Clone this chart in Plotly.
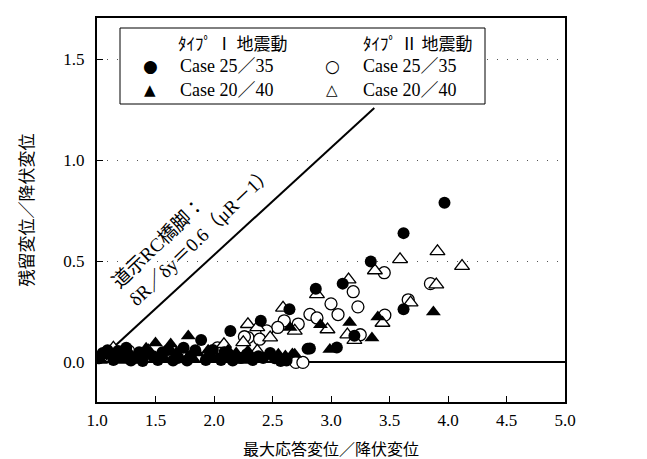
import plotly.graph_objects as go

# ---------------- data ----------------
# Type I ground motion, Case 25/35 (filled circles)
t1_c25_x = [3.97, 3.62, 3.34, 3.10, 2.87, 2.645, 2.40, 2.14, 3.62, 3.20, 2.82, 3.05,
            1.89, 1.05, 1.14, 1.25, 1.33, 1.44, 1.52, 1.61, 1.69, 1.80, 1.93, 1.99,
            2.12, 2.23, 2.33, 2.48, 2.80, 1.18, 1.39, 1.74, 2.06, 2.42, 2.57,
            1.02, 1.09, 1.21, 1.29, 1.36, 1.48, 1.56, 1.65, 1.77, 1.84, 1.96, 2.09,
            2.16, 2.28, 2.38, 2.52, 2.62]
t1_c25_y = [0.79, 0.64, 0.50, 0.39, 0.365, 0.263, 0.206, 0.156, 0.263, 0.132, 0.069, 0.074,
            0.111, 0.047, 0.012, 0.072, 0.022, 0.047, 0.012, 0.062, 0.022, 0.032, 0.012, 0.062,
            0.032, 0.022, 0.012, 0.047, 0.067, 0.057, 0.007, 0.072, 0.012, 0.022, 0.007,
            0.020, 0.060, 0.030, 0.010, 0.050, 0.030, 0.050, 0.010, 0.010, 0.060, 0.030, 0.050,
            0.010, 0.040, 0.030, 0.020, 0.010]

# Type I ground motion, Case 20/40 (filled triangles)
t1_c20_x = [3.875, 3.40, 3.16, 2.91, 2.65, 3.35, 2.99, 2.69, 2.61, 1.78, 1.63, 1.50,
            1.10, 1.28, 1.57, 1.86, 2.19, 2.67, 2.03, 2.29, 1.20,
            1.03, 1.16, 1.34, 1.42, 1.68, 1.82, 1.95, 2.12, 2.26, 2.45, 2.55]
t1_c20_y = [0.25, 0.225, 0.197, 0.187, 0.173, 0.121, 0.064, 0.041, 0.032, 0.131, 0.091, 0.096,
            0.032, 0.047, 0.022, 0.047, 0.047, 0.042, 0.022, 0.057, 0.010,
            0.010, 0.050, 0.030, 0.070, 0.050, 0.020, 0.060, 0.060, 0.010, 0.030, 0.040]

# Type II ground motion, Case 25/35 (open circles)
t2_c25_x = [3.85, 3.455, 3.19, 3.00, 3.23, 3.06, 2.82, 2.88, 2.72, 3.46, 3.66, 3.25,
            2.60, 2.545, 2.45, 2.29, 2.39, 2.26, 1.04, 1.27, 1.65, 2.03, 2.70, 2.76]
t2_c25_y = [0.39, 0.444, 0.35, 0.29, 0.275, 0.237, 0.238, 0.22, 0.19, 0.234, 0.31, 0.137,
            0.206, 0.173, 0.156, 0.123, 0.115, 0.127, 0.032, 0.057, 0.032, 0.072, 0.0, 0.0]

# Type II ground motion, Case 20/40 (open triangles)
t2_c20_x = [4.12, 3.91, 3.59, 3.375, 3.15, 3.90, 2.88, 3.68, 3.44, 2.97, 3.14, 3.20,
            2.69, 2.59, 2.48, 2.29, 2.37, 2.085, 2.25, 1.14, 1.44, 1.74, 2.37]
t2_c20_y = [0.477, 0.55, 0.51, 0.455, 0.41, 0.385, 0.337, 0.296, 0.195, 0.163, 0.138, 0.11,
            0.156, 0.27, 0.123, 0.189, 0.173, 0.09, 0.099, 0.072, 0.057, 0.047, 0.057]

# design line (Specifications for highway bridges, RC piers), as drawn
line_x = [1.0, 3.37]
line_y = [0.0, 1.26]

x_ticks = [1.0, 1.5, 2.0, 2.5, 3.0, 3.5, 4.0, 4.5, 5.0]
y_ticks = [0.0, 0.5, 1.0, 1.5]

x_title = "最大応答変位／降伏変位"
y_title = "残留変位／降伏変位"
hdr_1 = "ﾀｲﾌﾟ Ⅰ 地震動"
hdr_2 = "ﾀｲﾌﾟ Ⅱ 地震動"
lab_25 = "Case 25／35"
lab_20 = "Case 20／40"
line_label = "道示RC橋脚：<br>δR／δy＝0.6（μR－1）"

# ---------------- figure ----------------
SERIF = "Liberation Serif, Noto Sans CJK JP"
CJK = "Noto Sans CJK JP"

fig = go.Figure()
fig.add_trace(go.Scatter(x=line_x, y=line_y, mode="lines",
                         line=dict(color="black", width=2), showlegend=False))
fig.add_trace(go.Scatter(x=t2_c25_x, y=t2_c25_y, mode="markers", showlegend=False,
                         marker=dict(symbol="circle", size=12, color="white",
                                     line=dict(color="black", width=1.3))))
fig.add_trace(go.Scatter(x=t2_c20_x, y=t2_c20_y, mode="markers", showlegend=False,
                         marker=dict(symbol="triangle-up", size=13, color="white",
                                     line=dict(color="black", width=1.3))))
fig.add_trace(go.Scatter(x=t1_c25_x, y=t1_c25_y, mode="markers", showlegend=False,
                         marker=dict(symbol="circle", size=12, color="black",
                                     line=dict(width=0))))
fig.add_trace(go.Scatter(x=t1_c20_x, y=t1_c20_y, mode="markers", showlegend=False,
                         marker=dict(symbol="triangle-up", size=13, color="black",
                                     line=dict(width=0))))

fig.update_layout(
    width=647, height=459,
    margin=dict(l=89, r=90, t=10, b=65, autoexpand=False),
    paper_bgcolor="white", plot_bgcolor="white",
    font=dict(family=SERIF, size=17, color="black"),
)
fig.update_xaxes(
    range=[1.0, 5.0], tickvals=x_ticks, tickformat=".1f",
    ticks="inside", ticklen=6, tickwidth=1, tickcolor="black",
    showline=True, linecolor="black", linewidth=2, mirror=True,
    showgrid=False, zeroline=False, ticklabelstandoff=2,
    tickfont=dict(family=SERIF, size=17),
    title=dict(text=x_title, font=dict(family=CJK, size=16), standoff=14),
)
fig.update_yaxes(
    range=[-0.196, 1.705], tickvals=y_ticks, tickformat=".1f",
    ticks="inside", ticklen=6, tickwidth=1, tickcolor="black",
    showline=True, linecolor="black", linewidth=2, mirror=True,
    showgrid=True, gridcolor="#555555", gridwidth=1, griddash="1px,9px",
    zeroline=True, zerolinecolor="black", zerolinewidth=2,
    ticklabelstandoff=7,
    tickfont=dict(family=SERIF, size=17),
    title=dict(text=y_title, font=dict(family=CJK, size=17), standoff=25),
)

# legend box drawn as a shape with text entries
def px(x):
    return (x - 89) / 468.0

def py(y):
    return (394 - y) / 384.0

fig.add_shape(type="rect", xref="paper", yref="paper",
              x0=px(112), x1=px(477), y0=py(96), y1=py(20),
              line=dict(color="black", width=1), fillcolor="white", layer="above")

legend_items = [
    (hdr_1, 168, 35, "left", CJK, 17),
    (hdr_2, 353, 35, "left", CJK, 17),
    ("●", 142, 58, "center", "DejaVu Sans", 17),
    (lab_25, 170, 58, "left", SERIF, 18),
    ("▲", 142, 82, "center", "DejaVu Sans", 15),
    (lab_20, 170, 82, "left", SERIF, 18),
    ("○", 324, 58, "center", "DejaVu Sans", 17),
    (lab_25, 353, 58, "left", SERIF, 18),
    ("△", 324, 82, "center", "DejaVu Sans", 15),
    (lab_20, 353, 82, "left", SERIF, 18),
]
for txt, xx, yy, anc, fam, sz in legend_items:
    fig.add_annotation(text=txt, xref="paper", yref="paper", x=px(xx), y=py(yy),
                       xanchor=anc, yanchor="middle", showarrow=False,
                       font=dict(family=fam, size=sz, color="black"))

# rotated label along the design line
fig.add_annotation(text=line_label, xref="x", yref="y", x=1.82, y=0.67,
                   showarrow=False, textangle=-44, align="left",
                   font=dict(family=SERIF, size=19, color="black"))

fig.write_html("out.html")
